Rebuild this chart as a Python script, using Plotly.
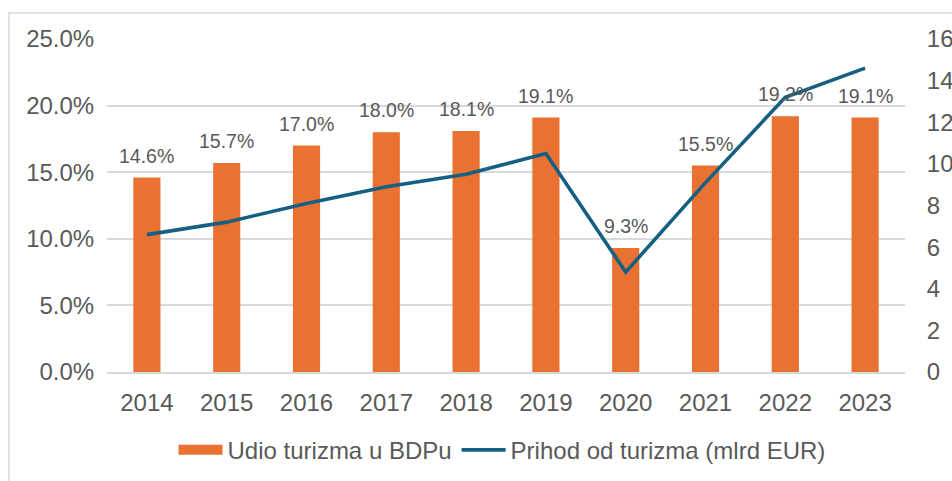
import plotly.graph_objects as go

years = ["2014", "2015", "2016", "2017", "2018", "2019", "2020", "2021", "2022", "2023"]
share_pct = [14.6, 15.7, 17.0, 18.0, 18.1, 19.1, 9.3, 15.5, 19.2, 19.1]
revenue_bn = [6.6, 7.2, 8.1, 8.9, 9.5, 10.5, 4.8, 9.1, 13.2, 14.6]
bar_name = "Udio turizma u BDPu"
line_name = "Prihod od turizma (mlrd EUR)"

ORANGE = "#E97132"
BLUE = "#156082"
GRAY_TXT = "#595959"
GRID = "#D9D9D9"
FONT = "Liberation Sans, Arial, Helvetica, sans-serif"

fig = go.Figure()
fig.add_trace(go.Bar(x=years, y=share_pct, marker=dict(color=ORANGE, line=dict(width=0)),
                     name=bar_name, showlegend=False, yaxis="y"))
# legend proxy for bar (wide swatch)
fig.add_trace(go.Scatter(x=[years[0]], y=[None], mode="lines", name=bar_name,
                         line=dict(color=ORANGE, width=12), yaxis="y"))
fig.add_trace(go.Scatter(x=years, y=revenue_bn, mode="lines", name=line_name,
                         line=dict(color=BLUE, width=3.6), yaxis="y2"))

for i, v in enumerate(share_pct):
    fig.add_annotation(x=i, y=v, text=f"{v:.1f}%", showarrow=False, yanchor="bottom",
                       xref="x", yref="y", yshift=9,
                       font=dict(size=19.5, color=GRAY_TXT, family=FONT))

fig.update_layout(
    width=952, height=481,
    margin=dict(l=107, r=47, t=39, b=109, autoexpand=False),
    paper_bgcolor="white", plot_bgcolor="white",
    font=dict(family=FONT, color=GRAY_TXT, size=24),
    bargap=0.66,
    showlegend=True,
    legend=dict(orientation="h", x=0.495, xanchor="center", y=-0.235, yanchor="middle",
                font=dict(size=24, color=GRAY_TXT), itemwidth=44, tracegroupgap=0,
                traceorder="normal"),
    xaxis=dict(type="category", categoryorder="array", categoryarray=years,
               range=[-0.5, len(years) - 0.5], automargin=False,
               showgrid=False, showline=True, linecolor=GRID, linewidth=1.5,
               ticks="outside", ticklen=8, tickcolor="rgba(0,0,0,0)",
               tickfont=dict(size=24, color=GRAY_TXT)),
    yaxis=dict(range=[0, 25], dtick=5, tickformat=".1f", ticksuffix="%", automargin=False,
               showgrid=True, gridcolor=GRID, gridwidth=1.5, zeroline=False,
               ticks="outside", ticklen=7, tickcolor="rgba(0,0,0,0)",
               tickfont=dict(size=24, color=GRAY_TXT)),
    yaxis2=dict(range=[0, 16], dtick=2, overlaying="y", side="right", showgrid=False,
                automargin=False,
                zeroline=False, ticks="outside", ticklen=16, tickcolor="rgba(0,0,0,0)",
                tickfont=dict(size=24, color=GRAY_TXT)),
)

# light chart-area border
fig.add_shape(type="rect", xref="paper", yref="paper",
              x0=(9 - 107) / 798, x1=(960 - 107) / 798,
              y0=(372 - 490) / 333, y1=(372 - 13) / 333,
              line=dict(color=GRID, width=1.5), fillcolor="rgba(0,0,0,0)", layer="below")

fig.write_html("out.html", config={"displayModeBar": False},
               post_script="document.body.style.margin='0';document.body.style.overflow='hidden';")
